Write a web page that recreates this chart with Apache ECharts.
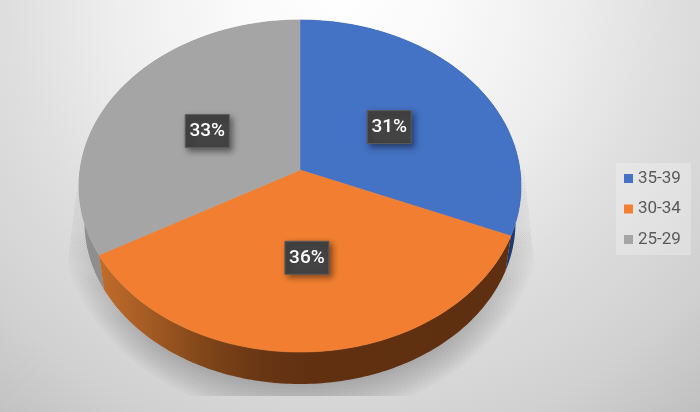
<!DOCTYPE html>
<html>
<head>
<meta charset="utf-8">
<style>html,body{margin:0;padding:0;background:#fff}#c{width:700px;height:412px}</style>
<script src="https://cdn.jsdelivr.net/npm/echarts@6/dist/echarts.min.js"></script>
</head>
<body>
<div id="c"></div>
<script>
var categories = ['35-39', '30-34', '25-29'];
var shares = [31.3, 35.5, 33.2];
var topColors = ['#4472c4', '#f27f31', '#a5a5a5'];

// Projected disc: a tilted circle seen in perspective
var CX = 300, CY = 170, A = 220, B = 164.5, K = 0.0964;
var DEPTH = 36.5, SHRINK = 0.975;

function project(theta, r, bottom) {
  var u = Math.sin(theta) * r, v = -Math.cos(theta) * r, w = 1 - K * v;
  var s = bottom ? SHRINK : 1;
  return [CX + s * A * u / w, CY + (bottom ? DEPTH : 0) + s * B * v / w];
}
function arc(t0, t1, bottom) {
  var n = Math.max(8, Math.ceil(Math.abs(t1 - t0) * 60)), pts = [];
  for (var i = 0; i <= n; i++) pts.push(project(t0 + (t1 - t0) * i / n, 1, bottom));
  return pts;
}
function sideFill(idx) {
  if (idx === 0) return '#1f3a6e';
  if (idx === 2) return '#8e8e8e';
  return new echarts.graphic.LinearGradient(100, 0, 520, 0, [
    { offset: 0, color: '#c06c2b' },
    { offset: 0.12, color: '#a35a24' },
    { offset: 0.24, color: '#824719' },
    { offset: 0.36, color: '#6c3815' },
    { offset: 0.5, color: '#603011' },
    { offset: 1, color: '#5e2f10' }
  ], true);
}
var total = shares.reduce(function (a, b) { return a + b; }, 0);

function sliceRenderer(idx) {
  return function () {
    var before = 0;
    for (var i = 0; i < idx; i++) before += shares[i];
    var t0 = before / total * 2 * Math.PI;
    var t1 = (before + shares[idx]) / total * 2 * Math.PI;
    var top = arc(t0, t1, false);
    var bot = arc(t1, t0, true);
    var mid = project((t0 + t1) / 2, 0.5, false);
    var cy = mid[1] + 1.5;
    var bw = 44, bh = 33;
    return {
      type: 'group',
      children: [
        { type: 'polygon', z2: idx === 1 ? 3 : 1, shape: { points: top.concat(bot) },
          style: { fill: sideFill(idx) } },
        { type: 'polygon', z2: 10, shape: { points: [[CX, CY]].concat(top) },
          style: { fill: topColors[idx], stroke: topColors[idx], lineWidth: 0.6 } },
        { type: 'rect', z2: 20, shape: { x: mid[0] - bw / 2, y: cy - bh / 2, width: bw, height: bh },
          style: { fill: '#434343', stroke: '#5c5c5c', lineWidth: 1,
            shadowBlur: 6, shadowOffsetX: 3, shadowOffsetY: 3, shadowColor: 'rgba(0,0,0,0.45)' } },
        { type: 'text', z2: 21, x: mid[0], y: cy,
          style: { text: Math.round(shares[idx]) + '%', fill: '#ffffff', align: 'center', verticalAlign: 'middle',
            font: '500 19px Roboto' } }
      ]
    };
  };
}
function shadowRenderer() {
  var kids = [], N = 16;
  var fade = new echarts.graphic.LinearGradient(0, 140, 0, 350, [
    { offset: 0, color: 'rgba(0,0,0,0)' },
    { offset: 0.5, color: 'rgba(0,0,0,0.006)' },
    { offset: 1, color: 'rgba(0,0,0,0.023)' }
  ], true);
  for (var i = 0; i < N; i++) {
    var f = i / (N - 1);
    kids.push({ type: 'ellipse', z2: i,
      shape: { cx: 301, cy: 205, rx: 212 + 32 * f, ry: 165 + 49 * f },
      style: { fill: fade } });
  }
  return {
    type: 'group',
    clipPath: { type: 'polygon', shape: { points: [[84, 130], [63, 300], [63, 396], [538, 396], [538, 300], [520, 130]] } },
    children: kids
  };
}

var series = [{
  type: 'custom', name: 'shadow', coordinateSystem: 'none', z: 1, silent: true,
  data: [[1]], renderItem: shadowRenderer
}];
categories.forEach(function (name, idx) {
  series.push({
    type: 'custom', name: name, coordinateSystem: 'none', z: 2, silent: true,
    itemStyle: { color: topColors[idx] },
    data: [[shares[idx]]], renderItem: sliceRenderer(idx)
  });
});

var chart = echarts.init(document.getElementById('c'), null, { renderer: 'canvas' });
chart.setOption({
  animation: false,
  backgroundColor: new echarts.graphic.RadialGradient(340, -10, 560, [
    { offset: 0, color: '#ffffff' },
    { offset: 0.2, color: '#f9f9f9' },
    { offset: 0.4, color: '#eeeeee' },
    { offset: 0.6, color: '#dedede' },
    { offset: 0.82, color: '#d1d1d1' },
    { offset: 1, color: '#bfbfbf' }
  ], true),
  legend: {
    show: true, orient: 'vertical', left: 616, top: 163,
    data: categories, icon: 'rect', itemWidth: 9, itemHeight: 9, itemGap: 13.5,
    padding: [7, 10, 7, 8], backgroundColor: 'rgba(255,255,255,0.25)',
    textStyle: { color: '#595959', fontFamily: 'Roboto', fontSize: 17 },
    selectedMode: false
  },
  series: series
});
</script>
</body>
</html>
